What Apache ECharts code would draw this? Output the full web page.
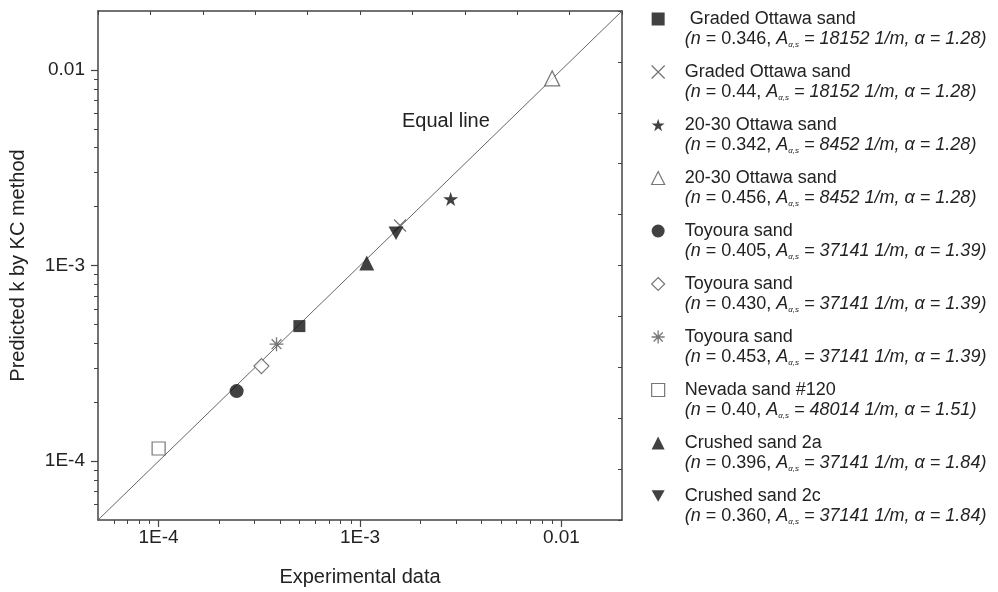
<!DOCTYPE html>
<html>
<head>
<meta charset="utf-8">
<script src="https://cdn.jsdelivr.net/npm/echarts@6/dist/echarts.min.js"></script>
<style>
  html, body { margin: 0; padding: 0; background: #fff; }
  #chart-kc { width: 998px; height: 592px; }
</style>
</head>
<body>
<div id="chart-kc"></div>
<script>
var sampleNames = [' Graded Ottawa sand', 'Graded Ottawa sand', '20-30 Ottawa sand', '20-30 Ottawa sand',
    'Toyoura sand', 'Toyoura sand', 'Toyoura sand', 'Nevada sand #120', 'Crushed sand 2a', 'Crushed sand 2c'];
var porosity = ['0.346', '0.44', '0.342', '0.456', '0.405', '0.430', '0.453', '0.40', '0.396', '0.360'];
var surfaceArea = ['18152', '18152', '8452', '8452', '37141', '37141', '37141', '48014', '37141', '37141'];
var alphaValues = ['1.28', '1.28', '1.28', '1.28', '1.39', '1.39', '1.39', '1.51', '1.84', '1.84'];
// measured k (x) and predicted k (y)
var expK = [5.0e-4, 1.58e-3, 2.82e-3, 9.0e-3, 2.44e-4, 3.24e-4, 3.85e-4, 1.0e-4, 1.08e-3, 1.51e-3];
var predK = [4.9e-4, 1.6e-3, 2.19e-3, 9.05e-3, 2.28e-4, 3.06e-4, 3.96e-4, 1.16e-4, 1.03e-3, 1.46e-3];
var equalLine = [5e-5, 0.02];
var majorTicks = [1e-4, 1e-3, 1e-2];
var tickLabels = ['1E-4', '1E-3', '0.01'];
var minorSteps = [2, 3, 4, 5, 6, 7, 8, 9];

var FONT = 'Liberation Sans, Arial, sans-serif';
var TXT = '#222';
var AXC = '#444';

var minorTicks = [];
[1e-5, 1e-4, 1e-3, 1e-2].forEach(function (d) {
    minorSteps.forEach(function (m) {
        var v = +(m * d).toPrecision(3);
        if (v > equalLine[0] && v < equalLine[1]) minorTicks.push(v);
    });
});

var filled = { color: '#111' };
var hollow = { color: '#fff', borderColor: '#555', borderWidth: 1.2 };
var stroked = { color: 'rgba(0,0,0,0)', borderColor: '#555', borderWidth: 1.3 };
var marks = [
    { symbol: 'rect', size: 12, style: filled },
    { symbol: 'path://M0,0L10,10M10,0L0,10', size: 12, style: stroked },
    { symbol: 'path://M50,0L61,35L98,35L68,57L79,91L50,70L21,91L32,57L2,35L39,35Z', size: 15, style: filled },
    { symbol: 'triangle', size: 15, style: hollow },
    { symbol: 'circle', size: 14, style: filled },
    { symbol: 'diamond', size: 15, style: hollow },
    { symbol: 'path://M5,0L5,10M0,5L10,5M1.5,1.5L8.5,8.5M8.5,1.5L1.5,8.5', size: 14, style: stroked },
    { symbol: 'rect', size: 13, style: hollow },
    { symbol: 'triangle', size: 15, style: filled },
    { symbol: 'path://M0,0L10,0L5,9Z', size: 15, style: filled }
];

var keyOf = function (i) { return sampleNames[i] + ' (n = ' + porosity[i] + ')'; };
var indexByKey = {};
var seriesList = [];
var legendData = [];
for (var i = 0; i < sampleNames.length; i++) {
    indexByKey[keyOf(i)] = i;
    legendData.push(keyOf(i));
    seriesList.push({
        name: keyOf(i),
        type: 'scatter',
        xAxisIndex: 0,
        yAxisIndex: 0,
        symbol: marks[i].symbol,
        symbolSize: marks[i].size,
        symbolKeepAspect: true,
        itemStyle: marks[i].style,
        emphasis: { disabled: true },
        data: [[expK[i], predK[i]]],
        z: 5
    });
}
seriesList.push({
    name: 'Equal line',
    type: 'line',
    xAxisIndex: 0,
    yAxisIndex: 0,
    symbol: 'none',
    lineStyle: { color: '#666', width: 1 },
    emphasis: { disabled: true },
    data: [[equalLine[0], equalLine[0]], [equalLine[1], equalLine[1]]],
    z: 2
});

var labelFor = function (v) {
    var idx = majorTicks.indexOf(+(+v).toPrecision(3));
    return idx >= 0 ? tickLabels[idx] : '';
};

var logAxis = function (pos, extra) {
    var ax = {
        type: 'log',
        position: pos,
        min: equalLine[0],
        max: equalLine[1],
        axisLine: { show: true, lineStyle: { color: AXC, width: 1.5 } },
        axisTick: { show: true, inside: false, length: 7, customValues: majorTicks, lineStyle: { color: AXC, width: 1.2 } },
        axisLabel: { show: true, customValues: majorTicks, formatter: labelFor, color: TXT, fontSize: 19, fontFamily: FONT },
        splitLine: { show: false },
        minorTick: { show: false }
    };
    for (var k in extra) ax[k] = extra[k];
    return ax;
};
var minorAxis = function (pos) {
    return {
        type: 'log',
        position: pos,
        min: equalLine[0],
        max: equalLine[1],
        axisLine: { show: false },
        axisTick: { show: true, inside: false, length: 4, customValues: minorTicks, lineStyle: { color: AXC, width: 1 } },
        axisLabel: { show: false },
        splitLine: { show: false }
    };
};
var frameAxis = function (pos) {
    return {
        type: 'value',
        position: pos,
        min: 0,
        max: 10,
        interval: 1,
        axisLine: { show: true, lineStyle: { color: AXC, width: 1.5 } },
        axisTick: { show: true, inside: true, length: 4, lineStyle: { color: AXC, width: 1 } },
        axisLabel: { show: false },
        splitLine: { show: false }
    };
};

var dom = document.getElementById('chart-kc');
var myChart = echarts.init(dom, null, { renderer: 'canvas' });
var option = {
    backgroundColor: '#fff',
    animation: false,
    grid: { left: 96, right: 376, top: 11, bottom: 69, containLabel: false },
    xAxis: [
        logAxis('bottom', {
            name: 'Experimental data',
            nameLocation: 'middle',
            nameGap: 47,
            nameTextStyle: { color: TXT, fontSize: 20, fontFamily: FONT },
            axisLabel: { show: true, customValues: majorTicks, formatter: labelFor, color: TXT, fontSize: 19, fontFamily: FONT, margin: 8 }
        }),
        minorAxis('bottom'),
        frameAxis('top')
    ],
    yAxis: [
        logAxis('left', {
            name: 'Predicted k by KC method',
            nameLocation: 'middle',
            nameGap: 70,
            nameTextStyle: { color: TXT, fontSize: 20, fontFamily: FONT },
            axisLabel: { show: true, customValues: majorTicks, formatter: labelFor, color: TXT, fontSize: 19, fontFamily: FONT, margin: 13 }
        }),
        minorAxis('left'),
        frameAxis('right')
    ],
    legend: {
        orient: 'vertical',
        left: 651,
        top: 10,
        padding: 0,
        itemGap: 14,
        itemWidth: 13,
        itemHeight: 13,
        selectedMode: false,
        data: legendData,
        itemStyle: { borderWidth: 'inherit' },
        formatter: function (name) {
            var i = indexByKey[name];
            return '{t|' + sampleNames[i] + '}\n' +
                '{i|(n}{p| = ' + porosity[i] + ', }{i|A}{s|α,s}{i| = ' + surfaceArea[i] +
                ' 1/m, α = ' + alphaValues[i] + ')}';
        },
        textStyle: {
            padding: [20, 0, 0, 15],
            rich: {
                t: { fontSize: 18, lineHeight: 20, color: TXT, fontFamily: FONT },
                p: { fontSize: 18, lineHeight: 20, color: TXT, fontFamily: FONT },
                i: { fontSize: 18, lineHeight: 20, color: TXT, fontFamily: FONT, fontStyle: 'italic' },
                s: { fontSize: 8, lineHeight: 8, color: TXT, fontFamily: FONT, fontStyle: 'italic', verticalAlign: 'bottom' }
            }
        }
    },
    graphic: [{
        type: 'text',
        left: 402,
        top: 111,
        style: { text: 'Equal line', fill: TXT, fontSize: 20, fontFamily: FONT }
    }],
    series: seriesList
};
if (option && typeof option === 'object') {
    myChart.setOption(option, true);
}
</script>
</body>
</html>
